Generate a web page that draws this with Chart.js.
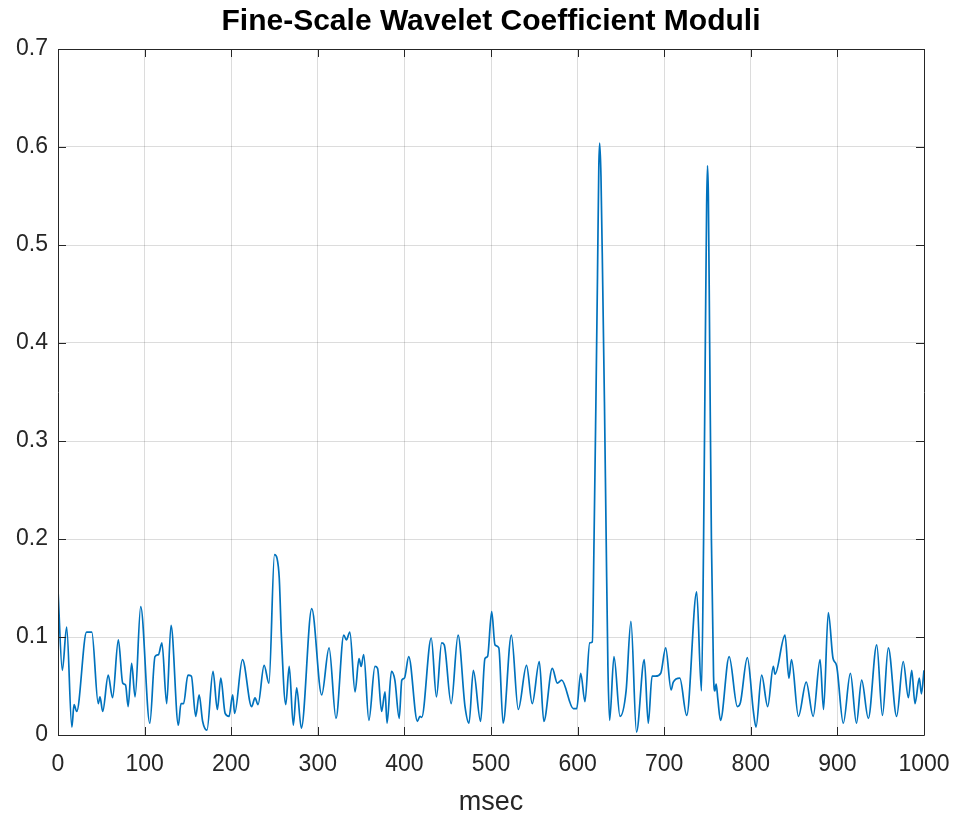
<!DOCTYPE html>
<html><head><meta charset="utf-8">
<script src="https://cdn.jsdelivr.net/npm/chart.js@4"></script>
<style>html,body{margin:0;padding:0;background:#fff}#wrap{width:958px;height:817px}</style>
</head><body><div id="wrap"><canvas id="c" width="958" height="817"></canvas></div>
<script>
const msec = [0,5,10,16,18.5,21.6,33,39,46.5,48.5,51.6,58,63,69.7,74.7,78,81,85,89,95.5,106,112,116,120,125.5,130.5,139,142,145,150,154,159,163,167,172,179,184,188,193,197.5,201.7,204,213,223.6,227.5,231,238,243.6,250,253,255.5,258,263,267,271.7,275.6,281,293,304.5,313,321,330,333,337,343,347.6,350,353,359,366,369,373.7,377.6,380,385,389,394,397,400,405,415,418,420,431,437,443,446,454,462,470,474.6,479.6,488,493,496,500.8,504.6,509,514,523.5,531.5,541,547.6,555.8,561,570.8,576.6,581.6,595,599,603.6,608.5,614,617,619,621,623,624.5,625.5,627,629,631,633,635,637,642,649,656,661.6,668,677,681.6,686,690,696,701.7,708,710.5,718,726,737.5,743,745.5,747.5,749,750,751,752.5,754.5,757,758.5,760,762,765,775,784.5,788,796,803,806,812.5,819.5,826,828,839.5,844,847,855,864,872,880,884,889.5,895,899,906.8,915,922,928,935.7,945.4,952,958.8,968.4,976,982,985.8,989.6,994.6,997,1000];
const moduli = [0.148,0.066,0.110,0.008,0.031,0.024,0.105,0.105,0.032,0.039,0.024,0.061,0.038,0.097,0.053,0.051,0.029,0.073,0.039,0.131,0.012,0.080,0.082,0.094,0.032,0.112,0.010,0.032,0.032,0.061,0.060,0.019,0.041,0.014,0.005,0.065,0.026,0.058,0.022,0.019,0.041,0.022,0.077,0.029,0.038,0.031,0.071,0.053,0.184,0.180,0.160,0.100,0.031,0.070,0.010,0.048,0.007,0.129,0.041,0.089,0.017,0.102,0.097,0.105,0.044,0.078,0.070,0.082,0.015,0.070,0.068,0.024,0.044,0.012,0.065,0.056,0.017,0.056,0.058,0.080,0.014,0.019,0.018,0.099,0.039,0.094,0.092,0.032,0.102,0.029,0.012,0.066,0.014,0.078,0.080,0.126,0.092,0.089,0.012,0.102,0.026,0.071,0.032,0.075,0.014,0.068,0.053,0.056,0.027,0.027,0.063,0.034,0.094,0.095,0.200,0.330,0.470,0.580,0.604,0.570,0.460,0.340,0.200,0.070,0.015,0.080,0.019,0.045,0.116,0.003,0.077,0.012,0.060,0.060,0.063,0.089,0.046,0.054,0.058,0.020,0.146,0.045,0.200,0.400,0.540,0.581,0.550,0.400,0.200,0.060,0.045,0.052,0.036,0.015,0.080,0.029,0.033,0.079,0.024,0.008,0.061,0.029,0.070,0.062,0.102,0.058,0.077,0.019,0.054,0.019,0.077,0.026,0.125,0.078,0.071,0.012,0.063,0.012,0.056,0.017,0.092,0.020,0.089,0.019,0.075,0.038,0.066,0.032,0.058,0.042,0.066];
const xTicks = [0,100,200,300,400,500,600,700,800,900,1000];
const yTicks = [0,0.1,0.2,0.3,0.4,0.5,0.6,0.7];
const titleText = 'Fine-Scale Wavelet Coefficient Moduli';
const xLabel = 'msec';

const FONT = '"Liberation Sans", Arial, Helvetica, sans-serif';
const AX = '#262626';

const boxTicks = {
  id: 'boxTicks',
  afterLayout(chart) {
    // centre the title over the axes, as MATLAB does
    const t = chart.titleBlock;
    if (t) { t.left = chart.chartArea.left; t.right = chart.chartArea.right; t.width = t.right - t.left; }
  },
  afterDatasetsDraw(chart) {
    const {ctx, chartArea: a, scales: {x, y}} = chart;
    ctx.save();
    ctx.strokeStyle = AX;
    ctx.lineWidth = 1;
    ctx.beginPath();
    ctx.rect(Math.round(a.left) + 0.5, Math.round(a.top) + 0.5, Math.round(a.right - a.left), Math.round(a.bottom - a.top));
    const L = 8;
    xTicks.forEach(v => {
      const px = Math.round(x.getPixelForValue(v)) + 0.5;
      ctx.moveTo(px, a.bottom); ctx.lineTo(px, a.bottom - L);
      ctx.moveTo(px, a.top); ctx.lineTo(px, a.top + L);
    });
    yTicks.forEach(v => {
      const py = Math.round(y.getPixelForValue(v)) + 0.5;
      ctx.moveTo(a.left, py); ctx.lineTo(a.left + L, py);
      ctx.moveTo(a.right, py); ctx.lineTo(a.right - L, py);
    });
    ctx.stroke();
    ctx.restore();
  }
};

new Chart(document.getElementById('c'), {
  type: 'line',
  data: {
    datasets: [{
      data: msec.map((m, i) => ({x: m, y: moduli[i]})),
      borderColor: '#0072BD',
      borderWidth: 1.7,
      pointRadius: 0,
      cubicInterpolationMode: 'monotone',
      fill: false
    }]
  },
  options: {
    responsive: false,
    animation: false,
    devicePixelRatio: 1,
    layout: {padding: {left: 0, right: 34, top: 0, bottom: 0}},
    plugins: {
      legend: {display: false},
      tooltip: {enabled: false},
      title: {
        display: true, text: titleText, color: '#000',
        font: {family: FONT, size: 30, weight: 'bold', lineHeight: 1.2},
        padding: {top: 4, bottom: 9}
      }
    },
    scales: {
      x: {
        type: 'linear', min: 0, max: 1000,
        afterBuildTicks: s => { s.ticks = xTicks.map(v => ({value: v})); },
        afterFit: s => { s.height = 82; s.paddingLeft = 0; s.paddingRight = 0; },
        ticks: {color: AX, font: {family: FONT, size: 23}, padding: 16, maxRotation: 0, autoSkip: false, callback: v => String(v)},
        grid: {color: 'rgba(38,38,38,0.16)', drawTicks: false},
        border: {display: false},
        title: {display: true, text: xLabel, color: AX, font: {family: FONT, size: 27, lineHeight: 1.0}, padding: {top: 0, bottom: 1}}
      },
      y: {
        type: 'linear', min: 0, max: 0.7,
        afterBuildTicks: s => { s.ticks = yTicks.map(v => ({value: v})); },
        afterFit: s => { s.width = 58; s.paddingTop = 0; s.paddingBottom = 0; },
        ticks: {color: AX, font: {family: FONT, size: 23}, padding: 10, autoSkip: false, callback: v => v === 0 ? '0' : v.toFixed(1)},
        grid: {color: 'rgba(38,38,38,0.16)', drawTicks: false},
        border: {display: false}
      }
    }
  },
  plugins: [boxTicks]
});
</script>
</body></html>
